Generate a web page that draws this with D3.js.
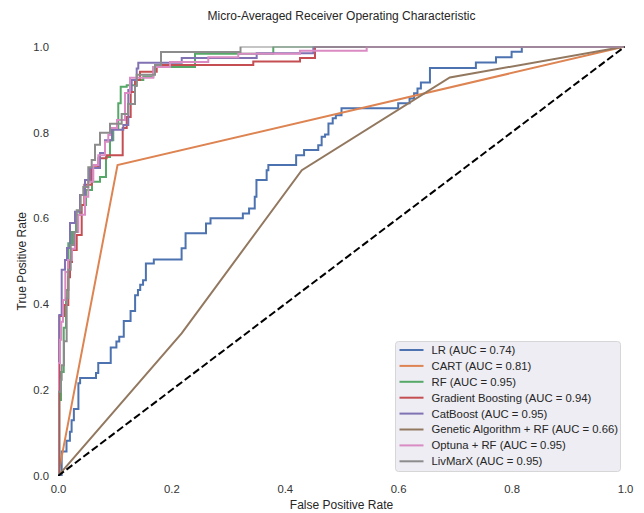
<!DOCTYPE html>
<html>
<head>
<meta charset="utf-8">
<script src="https://cdn.jsdelivr.net/npm/d3@7"></script>
<style>
  html, body { margin: 0; padding: 0; background: #ffffff; }
  svg { display: block; font-family: "Liberation Sans", Arial, sans-serif; }
</style>
</head>
<body>
<svg id="chart" width="644" height="513"></svg>
<script>
// ---- Data ----
const seriesNames = ["LR", "CART", "RF", "Gradient Boosting", "CatBoost", "Genetic Algorithm + RF", "Optuna + RF", "LivMarX"];
const aucValues = [0.74, 0.81, 0.95, 0.94, 0.95, 0.66, 0.95, 0.95];
const seriesColors = ["#4C72B0", "#DD8452", "#55A868", "#C44E52", "#8172B3", "#937860", "#DA8BC3", "#8C8C8C"];
const stepped = [true, false, true, true, true, false, true, true];

const lrFpr = [0, 0.0065, 0.015, 0.021, 0.024, 0.028, 0.036, 0.039, 0.067, 0.071, 0.093, 0.103, 0.108, 0.116, 0.128, 0.136, 0.141, 0.145, 0.15, 0.155, 0.169, 0.218, 0.225, 0.261, 0.269, 0.326, 0.337, 0.347, 0.35, 0.368, 0.371, 0.42, 0.434, 0.459, 0.465, 0.471, 0.477, 0.4845, 0.49, 0.5, 0.6, 0.62, 0.628, 0.634, 0.64, 0.656, 0.737, 0.7725, 0.80, 0.818, 1];
const lrTpr = [0, 0.057, 0.082, 0.103, 0.13, 0.156, 0.216, 0.228, 0.24, 0.263, 0.299, 0.313, 0.324, 0.361, 0.384, 0.421, 0.433, 0.445, 0.456, 0.495, 0.504, 0.53, 0.565, 0.588, 0.6, 0.611, 0.623, 0.65, 0.689, 0.712, 0.724, 0.747, 0.759, 0.77, 0.79, 0.795, 0.821, 0.833, 0.84, 0.856, 0.868, 0.879, 0.891, 0.902, 0.916, 0.95, 0.963, 0.975, 0.988, 1, 1];

const cartFpr = [0, 0.105, 1];
const cartTpr = [0, 0.724, 1];

const rfFpr = [0, 0.0023, 0.0053, 0.0101, 0.0141, 0.0182, 0.0247, 0.0317, 0.0388, 0.0494, 0.06, 0.0741, 0.0847, 0.0917, 0.0975, 0.1063, 0.1106, 0.1212, 0.1388, 0.1504, 0.1681, 0.2416, 0.3797, 1];
const rfTpr = [0, 0.177, 0.242, 0.345, 0.433, 0.542, 0.568, 0.608, 0.631, 0.666, 0.685, 0.696, 0.743, 0.782, 0.81, 0.868, 0.906, 0.91, 0.922, 0.93, 0.952, 0.983, 1, 1];

const gbFpr = [0, 0.0023, 0.0106, 0.0182, 0.0212, 0.0247, 0.033, 0.0418, 0.0464, 0.0594, 0.0711, 0.0857, 0.1141, 0.1212, 0.1282, 0.1358, 0.1446, 0.1741, 0.3444, 0.4268, 0.4533, 1];
const gbTpr = [0, 0.3725, 0.398, 0.463, 0.498, 0.526, 0.561, 0.631, 0.678, 0.719, 0.74, 0.747, 0.81, 0.836, 0.894, 0.922, 0.941, 0.957, 0.965, 0.973, 1, 1];

const cbFpr = [0, 0, 0.0023, 0.0065, 0.0123, 0.0159, 0.0212, 0.03, 0.0388, 0.0476, 0.0564, 0.0741, 0.0829, 0.0952, 0.1152, 0.124, 0.13, 0.1388, 0.1416, 0.2182, 0.3504, 0.4503, 1];
const cbTpr = [0, 0.263, 0.375, 0.48, 0.503, 0.531, 0.589, 0.615, 0.654, 0.689, 0.717, 0.752, 0.782, 0.806, 0.817, 0.899, 0.922, 0.949, 0.962, 0.973, 0.984, 1, 1];

const gaFpr = [0, 0.218, 0.43, 0.691, 1];
const gaTpr = [0, 0.332, 0.712, 0.928, 1];

const optFpr = [0, 0, 0.0035, 0.0058, 0.0088, 0.0129, 0.0176, 0.0247, 0.03, 0.0358, 0.0476, 0.0534, 0.0623, 0.0711, 0.0829, 0.0887, 0.0917, 0.1041, 0.1182, 0.127, 0.1681, 0.1975, 0.2651, 0.318, 0.4268, 0.5444, 1];
const optTpr = [0, 0.263, 0.317, 0.359, 0.41, 0.475, 0.503, 0.529, 0.568, 0.608, 0.65, 0.685, 0.724, 0.747, 0.778, 0.794, 0.81, 0.829, 0.892, 0.927, 0.952, 0.964, 0.975, 0.983, 0.99, 1, 1];

const livFpr = [0, 0, 0.005, 0.0065, 0.0106, 0.0153, 0.0182, 0.0224, 0.0282, 0.033, 0.04, 0.0446, 0.0534, 0.0594, 0.0653, 0.0741, 0.0917, 0.1123, 0.1235, 0.1358, 0.1388, 0.1711, 0.1817, 0.3219, 1];
const livTpr = [0, 0.196, 0.224, 0.258, 0.314, 0.414, 0.48, 0.538, 0.568, 0.619, 0.654, 0.673, 0.719, 0.736, 0.771, 0.799, 0.82, 0.843, 0.866, 0.908, 0.934, 0.957, 0.987, 1, 1];

const diagFpr = [0, 1];
const diagTpr = [0, 1];

const xTicks = [0.0, 0.2, 0.4, 0.6, 0.8, 1.0];
const yTicks = [0.0, 0.2, 0.4, 0.6, 0.8, 1.0];

const titleText = "Micro-Averaged Receiver Operating Characteristic";
const xLabelText = "False Positive Rate";
const yLabelText = "True Positive Rate";

// ---- Build ----
const fprs = [lrFpr, cartFpr, rfFpr, gbFpr, cbFpr, gaFpr, optFpr, livFpr];
const tprs = [lrTpr, cartTpr, rfTpr, gbTpr, cbTpr, gaTpr, optTpr, livTpr];
const series = seriesNames.map((n, i) => ({
  name: n, auc: aucValues[i], color: seriesColors[i], step: stepped[i],
  pts: fprs[i].map((f, j) => [f, tprs[i][j]])
}));

const svg = d3.select("#chart");
const L = 58, R = 625, T = 46.5, B = 476;
const x = d3.scaleLinear().domain([0, 1]).range([L, R]);
const y = d3.scaleLinear().domain([0, 1]).range([B, T]);

svg.append("defs").append("clipPath").attr("id", "clip")
  .append("rect").attr("x", L).attr("y", T).attr("width", R - L).attr("height", B - T);

const plot = svg.append("g").attr("clip-path", "url(#clip)");

series.forEach(s => {
  const line = d3.line().x(d => x(d[0])).y(d => y(d[1]))
    .curve(s.step ? d3.curveStepAfter : d3.curveLinear);
  plot.append("path").datum(s.pts)
    .attr("d", line)
    .attr("fill", "none")
    .attr("stroke", s.color)
    .attr("stroke-width", 2)
    .attr("stroke-linejoin", "miter");
});

plot.append("path")
  .datum(diagFpr.map((f, i) => [f, diagTpr[i]]))
  .attr("d", d3.line().x(d => x(d[0])).y(d => y(d[1])))
  .attr("fill", "none").attr("stroke", "#000").attr("stroke-width", 2)
  .attr("stroke-dasharray", "7.4,3.2");

// Axes (tick labels only, no spines)
const xAxis = svg.append("g").attr("transform", `translate(0,${B})`)
  .call(d3.axisBottom(x).tickValues(xTicks).tickFormat(d3.format(".1f")).tickSize(0).tickPadding(9));
const yAxis = svg.append("g").attr("transform", `translate(${L},0)`)
  .call(d3.axisLeft(y).tickValues(yTicks).tickFormat(d3.format(".1f")).tickSize(0).tickPadding(9));
[xAxis, yAxis].forEach(a => {
  a.select(".domain").remove();
  a.selectAll("text").attr("font-size", 11.3).attr("fill", "#333")
    .attr("font-family", "'Liberation Sans', Arial, sans-serif");
});

// Title and labels
svg.append("text").attr("x", (L + R) / 2).attr("y", 20).attr("text-anchor", "middle")
  .attr("font-size", 12).attr("fill", "#262626").text(titleText);
svg.append("text").attr("x", (L + R) / 2).attr("y", 509).attr("text-anchor", "middle")
  .attr("font-size", 12).attr("fill", "#262626").text(xLabelText);
svg.append("text").attr("transform", `translate(26,${(T + B) / 2}) rotate(-90)`)
  .attr("text-anchor", "middle").attr("font-size", 12).attr("fill", "#262626").text(yLabelText);

// Legend
const lg = svg.append("g");
lg.append("rect").attr("x", 395.5).attr("y", 341.5).attr("width", 225).attr("height", 130)
  .attr("rx", 3).attr("fill", "#EDEDF3").attr("stroke", "#D6D6D6").attr("stroke-width", 1);
series.forEach((s, i) => {
  const yy = 350 + i * 15.9;
  lg.append("line").attr("x1", 399.5).attr("x2", 423.5).attr("y1", yy).attr("y2", yy)
    .attr("stroke", s.color).attr("stroke-width", 2);
  lg.append("text").attr("x", 431.5).attr("y", yy).attr("dy", "0.35em")
    .attr("font-size", 11.3).attr("fill", "#262626")
    .text(`${s.name} (AUC = ${s.auc.toFixed(2)})`);
});
</script>
</body>
</html>
